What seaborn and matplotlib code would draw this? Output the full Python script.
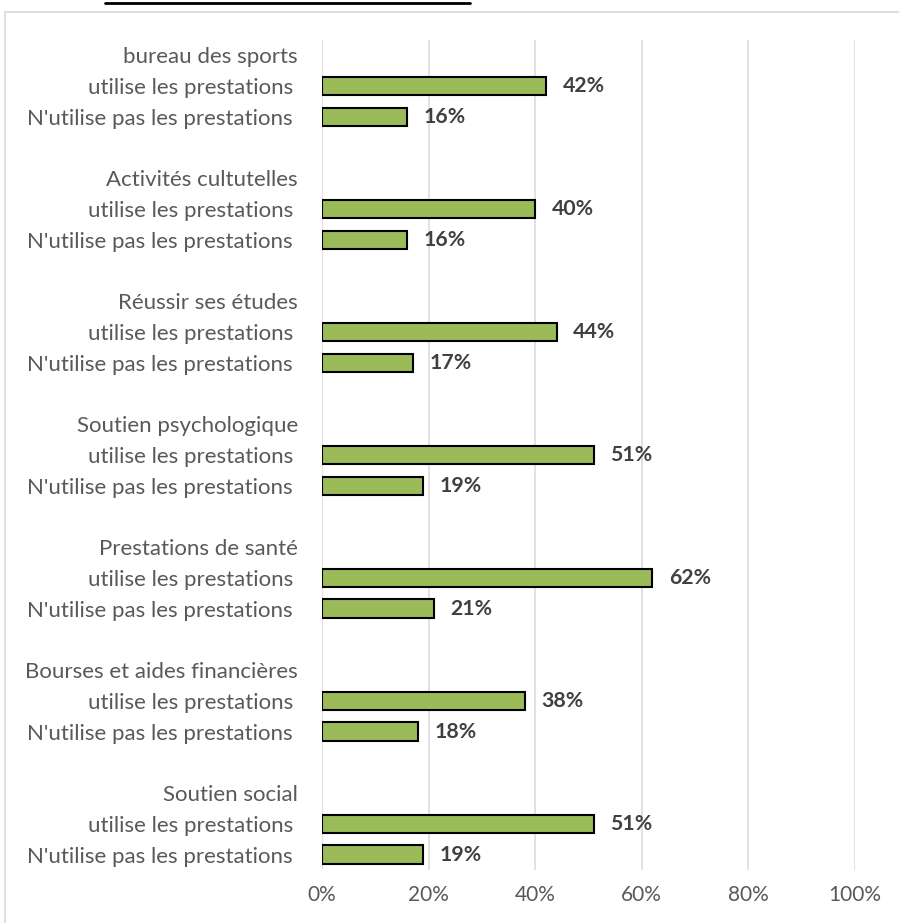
import numpy as np
import pandas as pd
import seaborn as sns
import matplotlib.pyplot as plt
import matplotlib.transforms as mtransforms
from matplotlib.patches import Rectangle
from matplotlib.lines import Line2D

groups = ["bureau des sports", "Activités cultutelles", "Réussir ses études",
          "Soutien psychologique", "Prestations de santé",
          "Bourses et aides financières", "Soutien social"]
statuts = ["utilise les prestations", "N'utilise pas les prestations"]
utilise = [42, 40, 44, 51, 62, 38, 51]
n_utilise = [16, 16, 17, 19, 21, 18, 19]
xticks = [0, 20, 40, 60, 80, 100]
xtick_labels = ["0%", "20%", "40%", "60%", "80%", "100%"]

sns.set_theme(style="white")
plt.rcParams['font.family'] = ['Lato', 'DejaVu Sans']

W, H = 899, 923
fig = plt.figure(figsize=(W / 100, H / 100), dpi=100)

# build category order (with blank separators and group headers)
order, labels, kinds = [], [], []
rows = []
for i, g in enumerate(groups):
    if i > 0:
        order.append(f"blank{i}"); labels.append(""); kinds.append("blank")
    order.append(f"head{i}"); labels.append(g); kinds.append("head")
    order.append(f"u{i}"); labels.append(statuts[0]); kinds.append("row")
    rows.append((f"u{i}", utilise[i]))
    order.append(f"n{i}"); labels.append(statuts[1]); kinds.append("row")
    rows.append((f"n{i}", n_utilise[i]))
df = pd.DataFrame(rows, columns=["key", "value"])

ax = fig.add_axes([322 / W, 1 - 870 / H, 533 / W, 830 / H])
sns.barplot(data=df, y="key", x="value", order=order, orient="h",
            color="#9BBB59", saturation=1, edgecolor="black", linewidth=1.5,
            width=0.6, ax=ax)

ax.set_xlim(0, 100)
ax.set_ylim(len(order) - 0.5, -0.5)
ax.set_xticks(xticks)
ax.set_xticklabels(xtick_labels, fontsize=15, color="#595959")
ax.set_yticks(range(len(order)))
ax.set_yticklabels(labels, fontsize=16, color="#595959")
ax.tick_params(axis="y", length=0, pad=21)
ax.tick_params(axis="x", length=0, pad=11)
ax.set_xlabel("")
ax.set_ylabel("")
for s in ax.spines.values():
    s.set_visible(False)
ax.xaxis.grid(True, color="#d9d9d9", linewidth=1.1)
ax.yaxis.grid(False)
ax.set_axisbelow(True)

# shift group header labels slightly right
offset = mtransforms.ScaledTranslation(5 / 100, 0, fig.dpi_scale_trans)
for lbl, k in zip(ax.get_yticklabels(), kinds):
    if k == "head":
        lbl.set_transform(lbl.get_transform() + offset)

# data labels
pos = {k: j for j, k in enumerate(order)}
for key, v in rows:
    ax.text(v + 3.1, pos[key], f"{v}%", va="center", ha="left",
            fontsize=15.3, fontweight="bold", color="#404040")

# chart border and cut-off title underline
fig.patches.append(Rectangle((5 / W, -0.05), 1.2, 1 - 12 / H + 0.05,
                             transform=fig.transFigure, fill=False,
                             edgecolor="#d9d9d9", linewidth=1.2))
fig.lines.append(Line2D([105 / W, 470 / W], [1 - 3 / H, 1 - 3 / H],
                        transform=fig.transFigure, color="black", linewidth=2))

fig.savefig("out.png", dpi=100)
